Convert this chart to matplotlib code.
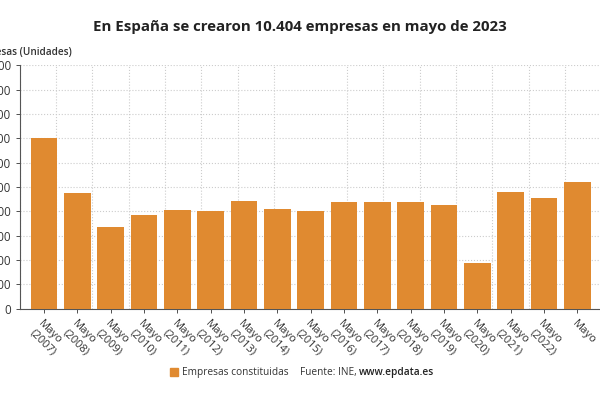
import numpy as np
import matplotlib
matplotlib.use('Agg')
import matplotlib.pyplot as plt
from matplotlib.patches import Patch
from matplotlib.ticker import FuncFormatter, FixedLocator

# datos: empresas constituidas en mayo de cada año
years = [2007, 2008, 2009, 2010, 2011, 2012, 2013, 2014, 2015,
         2016, 2017, 2018, 2019, 2020, 2021, 2022, 2023]
empresas = [14030, 9480, 6730, 7670, 8080, 8000, 8850, 8190, 8050,
            8790, 8740, 8790, 8540, 3720, 9560, 9090, 10404]
labels = ['Mayo\n(%d)' % y for y in years[:-1]] + ['Mayo']

orange = '#e08a30'
txt = '#333333'
plt.rcParams['font.family'] = ['Open Sans', 'DejaVu Sans']

fig = plt.figure(figsize=(6, 4), dpi=100)
ax = fig.add_axes([0.0327, 0.2285, 0.97, 0.6083])

x = np.arange(len(years))
ax.bar(x, empresas, width=0.8, color=orange, zorder=3)

ax.set_xlim(-0.73, len(years) - 1 + 0.73)
ax.set_ylim(0, 20000)
ax.set_yticks(np.arange(0, 20001, 2000))
ax.yaxis.set_major_formatter(FuncFormatter(lambda v, p: '{:,.0f}'.format(v).replace(',', '.')))

ax.set_xticks(x)
ax.set_xticklabels(labels, rotation=-45, ha='left', va='top',
                   rotation_mode='anchor', fontsize=8, color=txt)
# rejilla vertical independiente de las barras
xl = ax.get_xlim()
ax.xaxis.set_minor_locator(FixedLocator(np.linspace(xl[0], xl[1], 17)))
ax.tick_params(axis='x', which='minor', length=0)
ax.grid(True, which='minor', axis='x', color='#cccccc', linestyle=':', linewidth=0.8, zorder=0)
ax.grid(True, which='major', axis='y', color='#cccccc', linestyle=':', linewidth=0.8, zorder=0)

ax.tick_params(axis='y', labelsize=8.3, colors=txt, length=3, width=0.6, pad=3)
ax.tick_params(axis='x', which='major', length=3, width=0.6, pad=4, colors=txt)
for s in ['top', 'right']:
    ax.spines[s].set_visible(False)
for s in ['left', 'bottom']:
    ax.spines[s].set_color('#555555')
    ax.spines[s].set_linewidth(0.8)

fig.text(0.5, 1 - 27 / 400, 'En España se crearon 10.404 empresas en mayo de 2023',
         ha='center', va='center', fontsize=10.8, fontweight='bold', color='#222222')
fig.text(72 / 600, 1 - 52 / 400, 'Empresas (Unidades)', ha='right', va='center',
         fontsize=7.2, fontweight='semibold', color=txt)

leg = fig.legend(handles=[Patch(color=orange, label='Empresas constituidas')],
                 loc='center left', bbox_to_anchor=(166 / 600, 1 - 373 / 400),
                 frameon=False, fontsize=7.3, handlelength=0.8, handleheight=0.8,
                 handletextpad=0.4, borderaxespad=0)
for t in leg.get_texts():
    t.set_color(txt)

src = fig.text(300 / 600, 1 - 373 / 400, 'Fuente: INE, ', ha='left', va='center',
               fontsize=7.3, color=txt)
r = fig.canvas.get_renderer()
bb = src.get_window_extent(r)
fig.text(bb.x1 / fig.bbox.width, 1 - 373 / 400, 'www.epdata.es', ha='left', va='center',
         fontsize=7.3, fontweight='semibold', color='#222222')

fig.savefig('out.png', dpi=100)
